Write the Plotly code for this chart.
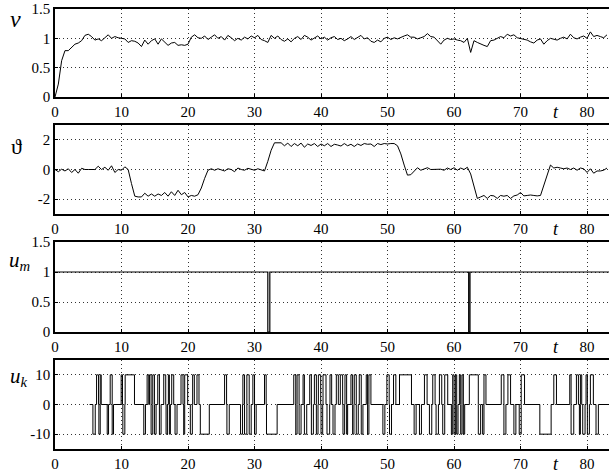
import plotly.graph_objects as go

# ---------------- data ----------------
t_step = 0.5
v_vals = [
    0.00, 0.22, 0.62, 0.79, 0.79, 0.84, 0.90, 0.92, 0.96, 1.05,
    1.07, 1.03, 0.97, 0.99, 0.96, 1.01, 1.06, 1.00, 1.03, 1.01,
    1.00, 0.99, 0.93, 0.96, 0.95, 0.92, 0.86, 0.97, 0.90, 0.96,
    0.99, 0.90, 0.99, 0.93, 0.88, 0.92, 0.93, 0.88, 0.89, 0.88,
    0.90, 1.02, 1.06, 1.01, 1.00, 1.04, 0.98, 1.02, 1.06, 1.00,
    1.03, 0.97, 1.05, 1.01, 0.96, 1.00, 0.97, 1.02, 0.99, 1.04,
    1.01, 1.05, 0.98, 0.96, 0.93, 1.05, 1.00, 1.04, 0.98, 0.95,
    0.99, 0.94, 1.00, 1.03, 0.98, 1.05, 1.02, 0.97, 1.01, 1.04,
    0.99, 1.02, 0.97, 1.01, 1.03, 0.98, 1.00, 0.96, 0.99, 1.03,
    0.98, 1.02, 1.05, 0.99, 1.01, 0.95, 0.93, 0.97, 0.94, 1.00,
    1.02, 0.98, 1.01, 0.99, 1.02, 1.04, 1.06, 1.02, 1.02, 0.99,
    1.01, 1.03, 1.08, 1.03, 1.02, 0.96, 0.90, 0.97, 1.00, 0.98,
    0.99, 0.97, 0.96, 0.93, 1.00, 0.76, 0.96, 0.93, 0.90, 0.88,
    0.86, 0.96, 0.97, 1.00, 1.03, 1.01, 1.07, 1.04, 1.06, 1.01,
    1.00, 0.98, 0.97, 0.94, 0.92, 0.97, 0.99, 0.90, 0.96, 1.00,
    0.98, 0.97, 1.00, 1.02, 0.99, 1.07, 1.01, 0.99, 1.02, 1.04,
    1.00, 1.11, 1.03, 1.05, 1.03, 1.01, 1.06,
]
theta_vals = [
    0.00, -0.15, 0.02, -0.10, 0.05, -0.20, 0.00, -0.25, 0.08, 0.00,
    0.00, 0.02, 0.00, 0.22, 0.00, 0.15, -0.05, 0.25, -0.20, 0.00,
    -0.05, 0.18, 0.00, -0.95, -1.80, -1.85, -1.85, -1.60, -1.80, -1.65,
    -1.80, -1.65, -1.75, -1.55, -1.80, -1.50, -1.75, -1.40, -1.70, -1.55,
    -1.85, -1.75, -1.80, -1.70, -1.25, -0.60, -0.05, 0.05, -0.05, 0.05,
    0.00, -0.10, 0.05, 0.00, -0.15, 0.10, 0.00, -0.05, 0.08, 0.00,
    -0.05, 0.05, 0.00, -0.10, 0.55, 1.30, 1.80, 1.78, 1.80, 1.60,
    1.78, 1.55, 1.75, 1.60, 1.78, 1.50, 1.72, 1.62, 1.75, 1.55,
    1.72, 1.60, 1.75, 1.55, 1.70, 1.65, 1.58, 1.75, 1.60, 1.70,
    1.55, 1.72, 1.62, 1.75, 1.70, 1.72, 1.55, 1.75, 1.68, 1.75,
    1.72, 1.75, 1.75, 1.60, 1.05, 0.30, -0.38, -0.35, -0.10, 0.12,
    -0.05, 0.05, 0.12, 0.00, 0.00, 0.05, 0.02, -0.05, 0.10, 0.00,
    0.12, -0.05, 0.10, 0.00, 0.15, -0.30, -1.10, -1.95, -1.85, -1.75,
    -1.95, -1.75, -1.78, -1.95, -1.75, -1.80, -1.75, -1.95, -1.78, -1.72,
    -1.55, -1.78, -1.75, -1.72, -1.75, -1.78, -1.75, -1.10, -0.30, 0.30,
    0.10, 0.15, 0.10, 0.05, 0.10, 0.00, 0.10, -0.05, 0.10, 0.05,
    -0.20, 0.05, -0.25, -0.10, -0.10, -0.05, 0.10,
]
t_grid = [i * t_step for i in range(len(v_vals))]

um_t = [0.0, 32.0, 32.3, 62.2, 62.4, 83.3]
um_vals = [1, 0, 1, 0, 1, 1]

uk_on = 5.2
uk_start = [5.70, 6.25, 6.60, 6.80, 7.85, 8.30, 8.60, 9.95, 10.20, 10.55,
            13.35, 13.85, 14.20, 14.45, 14.70, 14.95, 15.45, 15.70, 16.35, 16.70,
            17.05, 17.20, 17.55, 18.05, 18.95, 19.35, 19.50, 20.35, 20.70, 21.35,
            21.85, 25.50, 25.85, 27.90, 28.25, 28.50, 28.85, 29.20, 29.75, 30.00,
            31.50, 31.80, 35.90, 36.20, 36.40, 36.70, 37.30, 37.50, 38.30, 38.55,
            39.00, 39.30, 39.60, 40.00, 40.30, 40.90, 41.35, 41.80, 42.30, 42.90,
            43.30, 43.60, 43.85, 44.50, 44.75, 45.00, 45.30, 45.75, 46.05, 46.80,
            47.00, 47.20, 49.30, 49.90, 50.30, 50.90, 51.80, 54.00, 54.80, 55.55,
            56.30, 56.80, 57.30, 57.80, 58.30, 58.60, 59.60, 59.80, 60.00, 60.20,
            60.40, 60.80, 61.00, 61.20, 61.40, 62.30, 63.65, 64.30, 64.50, 67.10,
            67.50, 68.10, 69.00, 69.80, 70.10, 72.90, 75.00, 77.40, 77.60, 78.40,
            78.85, 79.00, 79.35, 79.85, 80.05, 80.50, 81.35]
uk_end = [6.05, 6.55, 6.80, 6.95, 8.05, 8.60, 8.80, 10.15, 10.50, 11.95,
          13.60, 14.10, 14.45, 14.70, 14.95, 15.20, 15.70, 15.95, 16.65, 16.90,
          17.20, 17.35, 17.85, 18.35, 19.25, 19.50, 19.95, 20.65, 20.95, 21.65,
          23.20, 25.80, 26.20, 28.20, 28.50, 28.85, 29.20, 29.50, 30.00, 30.25,
          31.75, 33.40, 36.20, 36.40, 36.70, 37.00, 37.50, 37.85, 38.55, 38.85,
          39.30, 39.55, 39.95, 40.25, 40.75, 41.30, 41.60, 42.10, 42.60, 43.25,
          43.55, 43.85, 44.00, 44.75, 44.95, 45.30, 45.60, 46.05, 46.30, 47.00,
          47.20, 47.50, 49.60, 50.25, 50.60, 51.25, 53.60, 54.30, 55.10, 55.95,
          56.65, 57.15, 57.65, 58.15, 58.60, 59.05, 59.80, 60.00, 60.20, 60.40,
          60.60, 61.00, 61.20, 61.40, 61.60, 63.65, 64.00, 64.50, 64.80, 67.50,
          67.80, 68.50, 69.30, 70.10, 70.60, 74.60, 75.40, 77.60, 78.00, 78.70,
          79.00, 79.20, 79.70, 80.05, 80.35, 80.95, 81.70]
uk_val = [-10, 10, -10, 10, -10, 10, -10, 10, -10, 10,
          -10, 10, 10, -10, 10, -10, 10, -10, 10, -10,
          10, -10, 10, -10, 10, -10, 10, -10, 10, 10,
          -10, 10, -10, -10, 10, -10, 10, -10, 10, -10,
          10, -10, 10, -10, 10, -10, 10, -10, 10, -10,
          10, -10, 10, -10, 10, -10, 10, -10, 10, 10,
          -10, 10, -10, 10, -10, 10, -10, 10, -10, 10,
          -10, 10, -10, 10, -10, 10, 10, -10, -10, 10,
          -10, 10, -10, 10, -10, 10, -10, 10, -10, 10,
          -10, 10, -10, 10, -10, 10, -10, -10, 10, 10,
          -10, 10, -10, -10, 10, -10, 10, 10, -10, 10,
          -10, 10, -10, 10, -10, 10, -10]

x_ticks = [0, 10, 20, 30, 40, 50, 60, 70, 80]
x_range = [0, 83.3]

# step signal for u_k built from the pulse tables
uk_x = [uk_on]
uk_y = [0]
for s, e, val in zip(uk_start, uk_end, uk_val):
    uk_x += [s, e]
    uk_y += [val, 0]
uk_x.append(x_range[1])
uk_y.append(0)

# ---------------- figure ----------------
FONT = "Liberation Serif, DejaVu Serif, serif"
W, H = 609, 473
ML, MR, MT, MB = 55, 0, 9, 24
plot_h = H - MT - MB

panels_px = [(9, 97), (125, 214), (242, 332), (360, 449)]
domains = [[(H - MB - b) / plot_h, (H - MB - t) / plot_h] for t, b in panels_px]
domains = [[max(0, d[0]), min(1, d[1])] for d in domains]

fig = go.Figure()
line = dict(color="black", width=1)
fig.add_trace(go.Scatter(x=t_grid, y=v_vals, mode="lines", line=line, xaxis="x", yaxis="y"))
fig.add_trace(go.Scatter(x=t_grid, y=theta_vals, mode="lines", line=line, xaxis="x2", yaxis="y2"))
fig.add_trace(go.Scatter(x=um_t, y=um_vals, mode="lines", line=dict(color="black", width=1.2, shape="hv"),
                         xaxis="x3", yaxis="y3"))
fig.add_trace(go.Scatter(x=uk_x, y=uk_y, mode="lines", line=dict(color="black", width=1, shape="hv"),
                         xaxis="x4", yaxis="y4"))

tickfont = dict(family=FONT, size=15, color="black")
common = dict(showgrid=True, gridcolor="#333333", griddash="1px,3px", gridwidth=1,
              showline=True, linecolor="black", linewidth=1.5,
              ticks="inside", ticklen=3, tickcolor="black", tickwidth=1,
              zeroline=False, tickfont=tickfont, fixedrange=True)

y_specs = [
    ([0, 1.5], [0, 0.5, 1, 1.5], ["0", "0.5", "1", "1.5"]),
    ([-3, 3], [-2, 0, 2], ["-2", "0", "2"]),
    ([0, 1.5], [0, 0.5, 1, 1.5], ["0", "0.5", "1", "1.5"]),
    ([-15, 15], [-10, 0, 10], ["-10", "0", "10"]),
]

layout = dict(width=W, height=H, margin=dict(l=ML, r=MR, t=MT, b=MB),
              paper_bgcolor="white", plot_bgcolor="white", showlegend=False,
              font=dict(family=FONT, color="black"))
for i in range(4):
    sx = "" if i == 0 else str(i + 1)
    layout["xaxis" + sx] = dict(common, range=x_range, tickvals=x_ticks,
                                ticktext=[str(v) for v in x_ticks], mirror=True,
                                anchor="y" + sx, domain=[0, 1])
    rng, tv, tt = y_specs[i]
    layout["yaxis" + sx] = dict(common, range=rng, tickvals=tv, ticktext=tt,
                                anchor="x" + sx, domain=domains[i])

annots = []
labels = ["<i>v</i>", "ϑ", "<i>u</i><sub><i>m</i></sub>", "<i>u</i><sub><i>k</i></sub>"]
label_px = [(15, 19), (16, 146), (19, 261), (19, 377)]
label_sizes = [24, 22, 21, 21]
for lab, (px, py), fs in zip(labels, label_px, label_sizes):
    annots.append(dict(text=lab, xref="paper", yref="paper",
                       x=(px - ML) / (W - ML - MR), y=(H - MB - py) / plot_h,
                       xanchor="center", yanchor="middle", showarrow=False,
                       font=dict(family=FONT, size=fs, color="black")))
for i in range(4):
    sx = "" if i == 0 else str(i + 1)
    annots.append(dict(text="<i>t</i>", xref="x" + sx, yref="paper",
                       x=75.4, y=domains[i][0], yshift=-15,
                       xanchor="center", yanchor="middle", showarrow=False,
                       font=dict(family=FONT, size=18, color="black")))
layout["annotations"] = annots

fig.update_layout(**layout)
fig.write_html("out.html")
